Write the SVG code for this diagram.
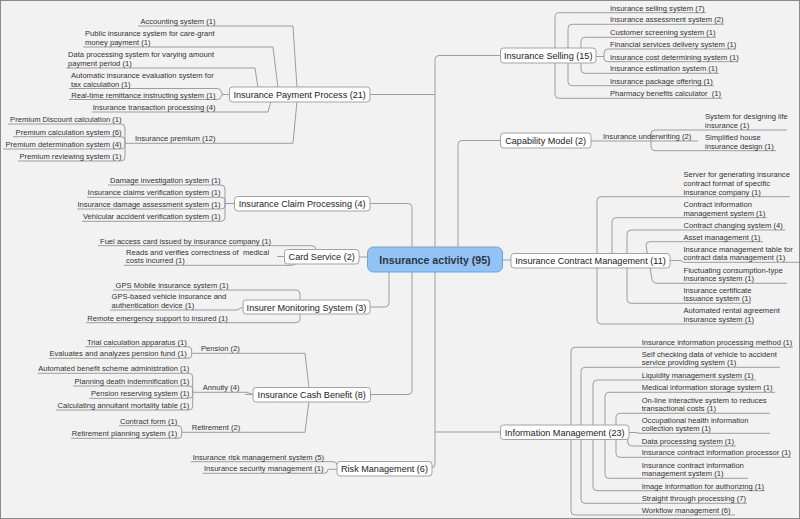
<svg xmlns="http://www.w3.org/2000/svg" width="800" height="519" viewBox="0 0 800 519">
<style>
.c{fill:none;stroke:#9d9d9d;stroke-width:1}
.t{font-family:"Liberation Sans",Arial,sans-serif;font-size:7.6px;fill:#333}
.e{text-anchor:end}
.pre{white-space:pre}
.n rect{fill:#fff;stroke:#a3a3a3;stroke-width:1}
.n text{font-family:"Liberation Sans",Arial,sans-serif;font-size:9.1px;fill:#222;text-anchor:middle}
</style>
<rect x="0.5" y="0.5" width="799" height="518" fill="#f2f2f2" stroke="#8a8a8a"/>
<g id="connectors" class="c">
<path d="M500,55.5 H439 Q435,55.5 435,59.5 V464 Q435,468 431,468"/>
<path d="M370,94.5 H435"/>
<path d="M435,432 H500"/>
<path d="M500,140.5 H462 Q458,140.5 458,144.5 V247"/>
<path d="M370,203.5 H408 Q412,203.5 412,207.5 V390.5 Q412,394.5 408,394.5 H370"/>
<path d="M367,257 H359"/>
<path d="M389,272 V303 Q389,307 385,307 H370"/>
<path d="M502,260 H511"/>
<path d="M138,26 H293 L297,88"/>
<path d="M83,47 H273 L278,88"/>
<path d="M66,68 H255 L258,88"/>
<path d="M69,88.5 H217 Q221,88.5 221,91.5 Q221,94.5 224,94.5 H229"/>
<path d="M69,99.5 H217 Q221,99.5 221,96.5 Q221,94.5 224,94.5"/>
<path d="M92,112 H268 L271,101"/>
<path d="M125,143.3 H293 L297,101"/>
<path d="M8,124 H121 Q125,124 125,128 V143.3"/>
<path d="M13,136.7 H121 Q125,136.7 125,140 V143.3"/>
<path d="M3,149 H121 Q125,149 125,146 V143.3"/>
<path d="M18,161 H121 Q125,161 125,157 V143.3"/>
<path d="M706,12.7 H559 Q555,12.7 555,16.7 V55.5"/>
<path d="M722,98.3 H559 Q555,98.3 555,94.3 V55.5"/>
<path d="M724,24.3 H572 Q568,24.3 568,28.3 V55.5"/>
<path d="M714,85.7 H572 Q568,85.7 568,81.7 V55.5"/>
<path d="M716,37.3 H585 Q581,37.3 581,41.3 V55.5"/>
<path d="M719,73.3 H585 Q581,73.3 581,69.3 V55.5"/>
<path d="M736,49 H608 Q604,49 604,53 V56.5 H596"/>
<path d="M738,61.7 H608 Q604,61.7 604,58.5 V56.5"/>
<path d="M591,141 H698"/>
<path d="M787,130 H655 Q651,130 651,134 V141"/>
<path d="M776,150.7 H655 Q651,150.7 651,146.7 V141"/>
<path d="M108,185 H221 Q225,185 225,189 V203.5 H234"/>
<path d="M87,197.3 H221 Q225,197.3 225,200.5 V203.5"/>
<path d="M77,209 H221 Q225,209 225,206 V203.5"/>
<path d="M82,221.3 H221 Q225,221.3 225,217.3 V203.5"/>
<path d="M98,245.7 H312 Q316,245.7 316,249.7 V256.5"/>
<path d="M124,265.3 H292 Q296,265.3 296,261.3 V256.5"/>
<path d="M277,256.5 H284"/>
<path d="M113,290 H296 Q300,290 300,294 V307"/>
<path d="M110,310 H237 L243,307"/>
<path d="M86,322.7 H296 Q300,322.7 300,318.7 V307"/>
<path d="M790,196.7 H601 Q597,196.7 597,200.7 V260.5"/>
<path d="M754,324 H601 Q597,324 597,320 V260.5"/>
<path d="M767,217.7 H616 Q612,217.7 612,221.7 V260.5"/>
<path d="M785,230 H631 Q627,230 627,234 V299.3 Q627,303.3 631,303.3 H751"/>
<path d="M763,241.7 H650 Q646,241.7 646,245.7 L652,279.3 Q652.5,283.3 656,283.3 H787"/>
<path d="M649,262 L646,260.5 H640"/>
<path d="M670,260.5 H680 Q682,260.5 683,262.3 H799"/>
<path d="M191.7,353.3 H305 L309,388"/>
<path d="M85,346.7 H188 Q191.7,346.7 191.7,350 V353.3"/>
<path d="M49,358.3 H188 Q191.7,358.3 191.7,355 V353.3"/>
<path d="M192.7,392.3 H247 L253,394.5"/>
<path d="M245,394.4 H253"/>
<path d="M37.7,373.3 H189 Q192.7,373.3 192.7,377 V392.3"/>
<path d="M73,386 H189 Q192.7,386 192.7,389 V392.3"/>
<path d="M89,398.3 H189 Q192.7,398.3 192.7,395 V392.3"/>
<path d="M56,410 H189 Q192.7,410 192.7,406 V392.3"/>
<path d="M181.7,432.3 H305 L309,401"/>
<path d="M119,425.7 H178 Q181.7,425.7 181.7,429 V432.3"/>
<path d="M71,438.3 H178 Q181.7,438.3 181.7,435 V432.3"/>
<path d="M191,461.7 H333 Q337,461.7 337,465"/>
<path d="M202.7,473.3 H324 Q328,473.3 328,469.3 H337"/>
<path d="M793,347.3 H575 Q571,347.3 571,351.3 V432"/>
<path d="M735,515 H575 Q571,515 571,511 V432"/>
<path d="M780,367.3 H585 Q581,367.3 581,371.3 V432"/>
<path d="M747,503.3 H585 Q581,503.3 581,499.3 V432"/>
<path d="M756,380 H597 Q593,380 593,384 V432"/>
<path d="M765,490.7 H597 Q593,490.7 593,486.7 V432"/>
<path d="M775,392.3 H609 Q605,392.3 605,396.3 V432"/>
<path d="M748,478.3 H609 Q605,478.3 605,474.3 V432"/>
<path d="M770,413.3 H620 Q616,413.3 616,417.3 V432"/>
<path d="M791,457.3 H620 Q616,457.3 616,453.3 V432"/>
<path d="M629,432.5 H636 Q638,433.3 640,433.3 H770"/>
<path d="M736,446 H631.7 Q627.7,446 627.7,442 V438"/>
</g>

<g id="center">
<rect x="367.5" y="247" width="135" height="25" rx="6" fill="#91c4f4" stroke="#6ea3d8"/>
<text x="435" y="263.5" font-family="Liberation Sans,Arial,sans-serif" font-size="10.6" font-weight="bold" fill="#2e3640" text-anchor="middle">Insurance activity (95)</text>
</g>

<g id="payment" class="n"><rect x="229.5" y="87" width="140.5" height="15" rx="3"/><text x="299.7" y="98">Insurance Payment Process (21)</text></g>
<g id="selling" class="n"><rect x="500.5" y="48" width="95.5" height="15" rx="3"/><text x="548.2" y="59">Insurance Selling (15)</text></g>
<g id="capability" class="n"><rect x="500.5" y="133" width="90.5" height="15" rx="3"/><text x="545.7" y="144">Capability Model (2)</text></g>
<g id="claim" class="n"><rect x="234.5" y="196.5" width="135.5" height="14.5" rx="3"/><text x="302.2" y="207.3">Insurance Claim Processing (4)</text></g>
<g id="card" class="n"><rect x="284.5" y="249.5" width="74.5" height="14.5" rx="3"/><text x="321.7" y="260.3">Card Service (2)</text></g>
<g id="monitoring" class="n"><rect x="243" y="300" width="127" height="14" rx="3"/><text x="306.5" y="310.5">Insurer Monitoring System (3)</text></g>
<g id="contract" class="n"><rect x="511" y="253.5" width="159" height="14.5" rx="3"/><text x="590.5" y="264.2">Insurance Contract Management (11)</text></g>
<g id="cash" class="n"><rect x="253" y="387.5" width="117.5" height="14.5" rx="3"/><text x="311.7" y="398.3">Insurance Cash Benefit (8)</text></g>
<g id="risk" class="n"><rect x="337" y="461.5" width="95" height="14.5" rx="3"/><text x="384.5" y="472.3">Risk Management (6)</text></g>
<g id="info" class="n"><rect x="500.5" y="425" width="128.5" height="14.5" rx="3"/><text x="564.7" y="435.8">Information Management (23)</text></g>

<g id="payment-leaves" class="t">
<g id="p1"><text class="e" x="215.5" y="24">Accounting system (1)</text></g>
<g id="p2"><text x="85" y="36.3">Public insurance system for care-grant<tspan x="85" dy="8.7">money payment (1)</tspan></text></g>
<g id="p3"><text x="68" y="57.3">Data processing system for varying amount<tspan x="68" dy="8.7">payment period (1)</tspan></text></g>
<g id="p4"><text x="71" y="77.8">Automatic insurance evaluation system for<tspan x="71" dy="8.7">tax calculation (1)</tspan></text></g>
<g id="p5"><text class="e" x="215.5" y="97.5">Real-time remittance instructing system (1)</text></g>
<g id="p6"><text class="e" x="215.5" y="110">Insurance transaction processing (4)</text></g>
<g id="p7"><text class="e" x="215.5" y="141.3">Insurance premium (12)</text></g>
<g id="p7a"><text class="e" x="121.5" y="122">Premium Discount calculation (1)</text></g>
<g id="p7b"><text class="e" x="121.5" y="134.7">Premium calculation system (6)</text></g>
<g id="p7c"><text class="e" x="121.5" y="147">Premium determination system (4)</text></g>
<g id="p7d"><text class="e" x="121.5" y="159">Premium reviewing system (1)</text></g>
</g>

<g id="selling-leaves" class="t">
<g id="s1"><text x="610" y="10.7">Insurance selling system (7)</text></g>
<g id="s2"><text x="610" y="22.3">Insurance assessment system (2)</text></g>
<g id="s3"><text x="610" y="35.3">Customer screening system (1)</text></g>
<g id="s4"><text x="610" y="47">Financial services delivery system (1)</text></g>
<g id="s5"><text x="610" y="59.7">Insurance cost determining system (1)</text></g>
<g id="s6"><text x="610" y="71.3">Insurance estimation system (1)</text></g>
<g id="s7"><text x="610" y="83.7">Insurance package offering (1)</text></g>
<g id="s8"><text class="pre" x="610" y="96.3">Pharmacy benefits calculator  (1)</text></g>
</g>

<g id="capability-leaves" class="t">
<g id="c1"><text x="603" y="139.3">Insurance underwriting (2)</text></g>
<g id="c1a"><text x="705" y="119.3">System for designing life<tspan x="705" dy="8.7">insurance (1)</tspan></text></g>
<g id="c1b"><text x="705" y="140">Simplified house<tspan x="705" dy="8.7">insurance design (1)</tspan></text></g>
</g>

<g id="claim-leaves" class="t">
<g id="cl1"><text class="e" x="220.5" y="183">Damage investigation system (1)</text></g>
<g id="cl2"><text class="e" x="220.5" y="195.3">Insurance claims verification system (1)</text></g>
<g id="cl3"><text class="e" x="220.5" y="207">Insurance damage assessment system (1)</text></g>
<g id="cl4"><text class="e" x="220.5" y="219.3">Vehicular accident verification system (1)</text></g>
</g>

<g id="card-leaves" class="t">
<g id="cs1"><text x="100" y="243.7">Fuel access card issued by insurance company (1)</text></g>
<g id="cs2"><text class="pre" x="126" y="254.6">Reads and verifies correctness of  medical<tspan x="126" dy="8.7">costs incurred (1)</tspan></text></g>
</g>

<g id="monitoring-leaves" class="t">
<g id="m1"><text x="115.5" y="288">GPS Mobile insurance system (1)</text></g>
<g id="m2"><text x="111.5" y="299.3">GPS-based vehicle insurance and<tspan x="111.5" dy="8.7">authentication device (1)</tspan></text></g>
<g id="m3"><text x="87.3" y="320.7">Remote emergency support to insured (1)</text></g>
</g>

<g id="contract-leaves" class="t">
<g id="k1"><text x="683.5" y="177.3">Server for generating insurance<tspan x="683.5" dy="8.7">contract format of specific</tspan><tspan x="683.5" dy="8.7">insurance company (1)</tspan></text></g>
<g id="k2"><text x="683.5" y="207">Contract information<tspan x="683.5" dy="8.7">management system (1)</tspan></text></g>
<g id="k3"><text x="683.5" y="228">Contract changing system (4)</text></g>
<g id="k4"><text x="683.5" y="239.7">Asset management (1)</text></g>
<g id="k5"><text x="683.5" y="251.6">Insurance management table for<tspan x="683.5" dy="8.7">contract data management (1)</tspan></text></g>
<g id="k6"><text x="683.5" y="272.6">Fluctuating consumption-type<tspan x="683.5" dy="8.7">insurance system (1)</tspan></text></g>
<g id="k7"><text x="683.5" y="292.6">Insurance certificate<tspan x="683.5" dy="8.7">issuance system (1)</tspan></text></g>
<g id="k8"><text x="683.5" y="313.3">Automated rental agreement<tspan x="683.5" dy="8.7">insurance system (1)</tspan></text></g>
</g>

<g id="cash-leaves" class="t">
<g id="b1"><text x="201" y="351.3">Pension (2)</text></g>
<g id="b1a"><text class="e" x="186.7" y="344.7">Trial calculation apparatus (1)</text></g>
<g id="b1b"><text class="e" x="186.7" y="356.3">Evaluates and analyzes pension fund (1)</text></g>
<g id="b2"><text x="202.7" y="390.3">Annuity (4)</text></g>
<g id="b2a"><text class="e" x="189.3" y="371.3">Automated benefit scheme administration (1)</text></g>
<g id="b2b"><text class="e" x="189.3" y="384">Planning death indemnification (1)</text></g>
<g id="b2c"><text class="e" x="189.3" y="396.3">Pension reserving system (1)</text></g>
<g id="b2d"><text class="e" x="189.3" y="408">Calculating annuitant mortality table (1)</text></g>
<g id="b3"><text x="191.7" y="430.3">Retirement (2)</text></g>
<g id="b3a"><text class="e" x="177.3" y="423.7">Contract form (1)</text></g>
<g id="b3b"><text class="e" x="177.3" y="436.3">Retirement planning system (1)</text></g>
</g>

<g id="risk-leaves" class="t">
<g id="r1"><text x="192.7" y="459.7">Insurance risk management system (5)</text></g>
<g id="r2"><text x="204" y="471.3">Insurance security management (1)</text></g>
</g>

<g id="info-leaves" class="t">
<g id="i1"><text x="641.7" y="345.3">Insurance information processing method (1)</text></g>
<g id="i2"><text x="641.7" y="356.6">Self checking data of vehicle to accident<tspan x="641.7" dy="8.7">service providing system (1)</tspan></text></g>
<g id="i3"><text x="641.7" y="378">Liquidity management system (1)</text></g>
<g id="i4"><text x="641.7" y="390.3">Medical information storage system (1)</text></g>
<g id="i5"><text x="641.7" y="402.6">On-line interactive system to reduces<tspan x="641.7" dy="8.7">transactional costs (1)</tspan></text></g>
<g id="i6"><text x="641.7" y="422.6">Occupational health information<tspan x="641.7" dy="8.7">collection system (1)</tspan></text></g>
<g id="i7"><text x="641.7" y="444">Data processing system (1)</text></g>
<g id="i8"><text x="641.7" y="455.3">Insurance contract information processor (1)</text></g>
<g id="i9"><text x="641.7" y="467.6">Insurance contract information<tspan x="641.7" dy="8.7">management system (1)</tspan></text></g>
<g id="i10"><text x="641.7" y="488.7">Image information for authorizing (1)</text></g>
<g id="i11"><text x="641.7" y="501.3">Straight through processing (7)</text></g>
<g id="i12"><text x="641.7" y="513">Workflow management (6)</text></g>
</g>
</svg>
